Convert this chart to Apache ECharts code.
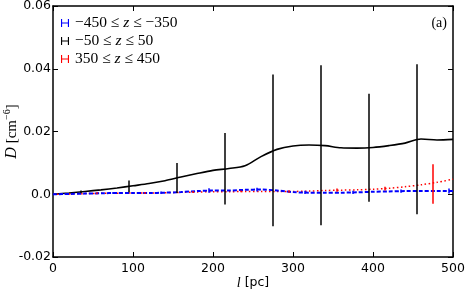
<!DOCTYPE html>
<html>
<head>
<meta charset="utf-8">
<style>
  html, body { margin: 0; padding: 0; background: #fff; }
  #chart { width: 473px; height: 292px; }
</style>
</head>
<body>
<div id="chart"></div>
<script src="https://cdn.jsdelivr.net/npm/echarts@6/dist/echarts.min.js"></script>
<script>
// sample positions along l [pc]
var ls = [0, 20, 40, 60, 80, 100, 120, 140, 160, 180, 200, 220, 240, 260, 280, 300, 320, 340, 360, 380, 400, 420, 440, 460, 480, 500];

// D values of the three z slices
var dNeg = [0, 0.0001, 0.0002, 0.0003, 0.0004, 0.0004, 0.0004, 0.0005, 0.0007, 0.0010, 0.0012, 0.0012, 0.0014, 0.0015, 0.0012, 0.0007, 0.0005, 0.0005, 0.0005, 0.0006, 0.0008, 0.0009, 0.0010, 0.0010, 0.0010, 0.0010];
var dMid = [0, 0.0004, 0.0009, 0.0014, 0.0020, 0.0027, 0.0034, 0.0043, 0.0055, 0.0066, 0.0076, 0.0082, 0.0091, 0.0120, 0.0143, 0.0154, 0.0157, 0.0155, 0.0148, 0.0147, 0.0149, 0.0155, 0.0163, 0.0176, 0.0173, 0.0175];
var dPos = [0, 0.0001, 0.0002, 0.0003, 0.0003, 0.0004, 0.0004, 0.0005, 0.0006, 0.0007, 0.0008, 0.0008, 0.0009, 0.0009, 0.0009, 0.0009, 0.0010, 0.0012, 0.0013, 0.0014, 0.0016, 0.0019, 0.0024, 0.0030, 0.0038, 0.0048];

// error bars: [l, D, err]
var errNeg = [[15, 0.0001, 0.0002], [75, 0.0004, 0.0003], [135, 0.0005, 0.0004], [195, 0.0012, 0.0007], [255, 0.0015, 0.0006], [315, 0.0006, 0.0005], [375, 0.0006, 0.0005], [435, 0.0010, 0.0005], [495, 0.0010, 0.0008]];
var errMid = [[35, 0.0008, 0.0004], [95, 0.0025, 0.0019], [155, 0.0052, 0.0048], [215, 0.0081, 0.0114], [275, 0.0140, 0.0242], [335, 0.0156, 0.0255], [395, 0.0148, 0.0172], [455, 0.0175, 0.0239]];
var errPos = [[55, 0.0003, 0.0003], [115, 0.0004, 0.0003], [175, 0.0007, 0.0003], [235, 0.0009, 0.0003], [295, 0.0009, 0.0004], [355, 0.0013, 0.0005], [415, 0.0018, 0.0006], [475, 0.0033, 0.0063]];

var labels = {
  neg: '{t|−450 ≤ }{i|z}{t| ≤ −350}',
  mid: '{t|−50 ≤ }{i|z}{t| ≤ 50}',
  pos: '{t|350 ≤ }{i|z}{t| ≤ 450}'
};
var hIcon = 'path://M0,0h1.4v10h-1.4z M0,4.3h10v1.4h-10z M8.6,0h1.4v10h-1.4z';

function pairs(ys) {
  return ls.map(function (l, i) { return [l, ys[i]]; });
}

function errSeries(name, data, color) {
  return {
    name: name,
    type: 'custom',
    clip: true,
    data: data,
    renderItem: function (params, api) {
      var x = api.value(0), y = api.value(1), e = api.value(2);
      var top = api.coord([x, y + e]);
      var bot = api.coord([x, y - e]);
      return {
        type: 'line',
        shape: { x1: top[0], y1: top[1], x2: bot[0], y2: bot[1] },
        style: { stroke: color, lineWidth: 1.5 }
      };
    },
    itemStyle: { color: color },
    z: 3
  };
}

function lineSeries(name, ys, color, dash, width) {
  return {
    name: name,
    type: 'line',
    data: pairs(ys),
    smooth: 0.3,
    showSymbol: false,
    lineStyle: { color: color, width: width, type: dash },
    itemStyle: { color: color },
    z: 2
  };
}

var serif = 'Liberation Serif';
var sans = 'DejaVu Sans';

var chart = echarts.init(document.getElementById('chart'), null, { renderer: 'canvas' });

var axisLine = { onZero: false, lineStyle: { color: '#000', width: 1.5 } };
var tick = { inside: true, length: 5, lineStyle: { color: '#000', width: 1 } };

chart.setOption({
  animation: false,
  backgroundColor: '#fff',
  grid: { left: 53, right: 20, top: 6, bottom: 35, containLabel: false, outerBoundsMode: 'none' },
  legend: {
    orient: 'vertical',
    left: 56,
    top: 10,
    itemWidth: 10,
    itemHeight: 8,
    itemGap: 2,
    selectedMode: false,
    data: [
      { name: 'neg', icon: hIcon, itemStyle: { color: '#0000ff' } },
      { name: 'mid', icon: hIcon, itemStyle: { color: '#000000' } },
      { name: 'pos', icon: hIcon, itemStyle: { color: '#ff0000' } }
    ],
    formatter: function (n) { return labels[n]; },
    textStyle: {
      rich: {
        t: { fontFamily: serif, fontSize: 15.5, color: '#000', lineHeight: 16 },
        i: { fontFamily: serif, fontSize: 15.5, fontStyle: 'italic', color: '#000', lineHeight: 16 }
      }
    }
  },
  xAxis: [{
    type: 'value', min: 0, max: 500, interval: 100,
    axisLine: axisLine, axisTick: tick,
    splitLine: { show: false },
    axisLabel: { color: '#000', fontFamily: sans, fontSize: 12.5, margin: 5 },
    name: '{i|l} [pc]',
    nameLocation: 'middle',
    nameGap: 19,
    nameMoveOverlap: false,
    nameTextStyle: {
      color: '#000', fontFamily: sans, fontSize: 12.5,
      rich: { i: { fontFamily: serif, fontStyle: 'italic', fontSize: 14, color: '#000' } }
    }
  }, {
    type: 'value', min: 0, max: 500, interval: 100, position: 'top',
    axisLine: axisLine, axisTick: tick, axisLabel: { show: false }, splitLine: { show: false }
  }],
  yAxis: [{
    type: 'value', min: -0.02, max: 0.06, interval: 0.02,
    axisLine: axisLine, axisTick: tick,
    splitLine: { show: false },
    axisLabel: {
      color: '#000', fontFamily: sans, fontSize: 12.5, margin: 2,
      formatter: function (v) { return Math.abs(v) < 1e-9 ? '0.0' : v.toFixed(2); }
    },
    name: '{i|D}{t| [cm}{s|−6}{t|]}',
    nameLocation: 'middle',
    nameGap: 33,
    nameMoveOverlap: false,
    nameTextStyle: {
      color: '#000', fontFamily: serif, fontSize: 15,
      rich: {
        i: { fontFamily: serif, fontStyle: 'italic', fontSize: 16, color: '#000', lineHeight: 18, verticalAlign: 'bottom' },
        t: { fontFamily: serif, fontSize: 15, color: '#000', lineHeight: 18, verticalAlign: 'bottom' },
        s: { fontFamily: serif, fontSize: 10, color: '#000', lineHeight: 18, verticalAlign: 'top' }
      }
    }
  }, {
    type: 'value', min: -0.02, max: 0.06, interval: 0.02, position: 'right',
    axisLine: axisLine, axisTick: tick, axisLabel: { show: false }, splitLine: { show: false }
  }],
  graphic: [{
    type: 'text', right: 26, top: 16,
    style: { text: '(a)', font: '14px "Liberation Serif"', fill: '#000' }
  }],
  series: [
    lineSeries('mid', dMid, '#000000', 'solid', 1.6),
    lineSeries('pos', dPos, '#ff0000', [1.5, 2.5], 1.5),
    lineSeries('neg', dNeg, '#0000ff', [4, 2], 2),
    errSeries('mid', errMid, '#000000'),
    errSeries('pos', errPos, '#ff0000'),
    errSeries('neg', errNeg, '#0000ff')
  ]
});
</script>
</body>
</html>
